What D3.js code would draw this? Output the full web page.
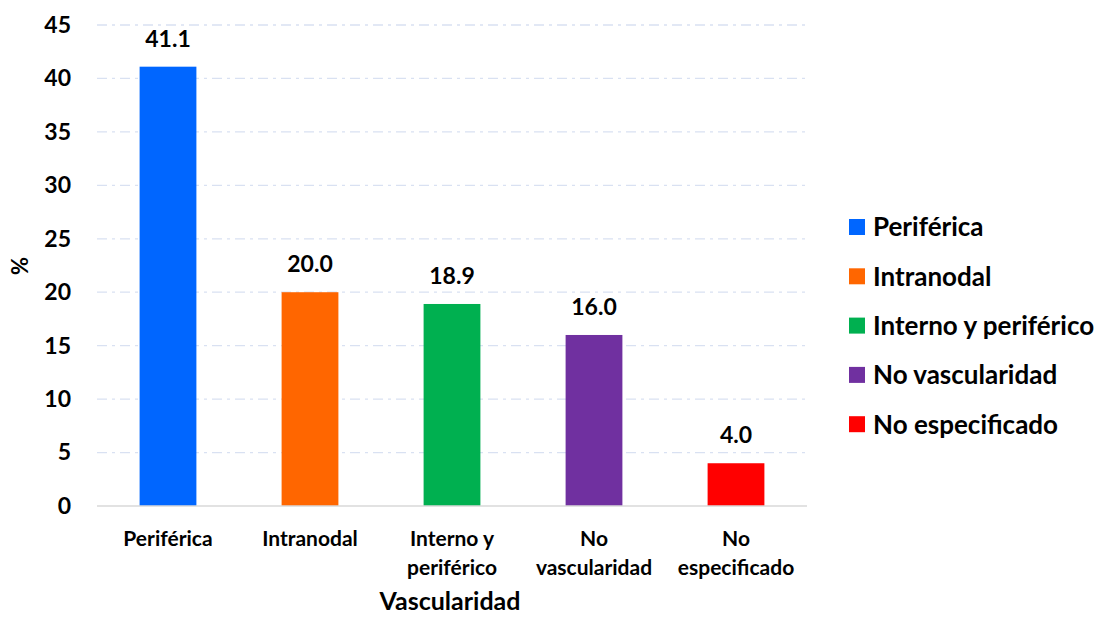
<!DOCTYPE html>
<html>
<head>
<meta charset="utf-8">
<script src="https://cdn.jsdelivr.net/npm/d3@7"></script>
<style>
  body { margin: 0; background: #fff; }
  svg { font-family: Lato, "Open Sans", sans-serif; font-weight: bold; }
</style>
</head>
<body>
<svg id="chart" width="1104" height="617"></svg>
<script>
const categories = ["Periférica", "Intranodal", "Interno y periférico", "No vascularidad", "No especificado"];
const tickLabels = [["Periférica"], ["Intranodal"], ["Interno y", "periférico"], ["No", "vascularidad"], ["No", "especificado"]];
const values = [41.1, 20.0, 18.9, 16.0, 4.0];
const colors = ["#0066ff", "#ff6600", "#00b050", "#7030a0", "#ff0000"];
const yTicks = [0, 5, 10, 15, 20, 25, 30, 35, 40, 45];

const svg = d3.select("#chart");
const plotLeft = 97, plotRight = 807, plotTop = 25, plotBottom = 506;

const x = d3.scaleBand().domain(categories).range([plotLeft, plotRight]).paddingInner(0.6).paddingOuter(0.3);
const y = d3.scaleLinear().domain([0, 45]).range([plotBottom, plotTop]);

// grid lines
svg.append("g")
  .selectAll("line")
  .data(yTicks.filter(d => d > 0))
  .join("line")
  .attr("x1", plotLeft).attr("x2", plotRight)
  .attr("y1", d => y(d)).attr("y2", d => y(d))
  .attr("stroke", "#d9e1f2")
  .attr("stroke-width", 1.3)
  .attr("stroke-dasharray", "10,5,3,5");

// y axis labels
const yAxis = svg.append("g")
  .attr("transform", `translate(${plotLeft},0)`)
  .call(d3.axisLeft(y).tickValues(yTicks).tickSize(0).tickPadding(26));
yAxis.select(".domain").remove();
yAxis.selectAll("text")
  .attr("font-family", "Lato, sans-serif")
  .attr("font-weight", "bold")
  .attr("font-size", 23)
  .attr("fill", "#000");

// bars
svg.append("g")
  .selectAll("rect")
  .data(values)
  .join("rect")
  .attr("x", (d, i) => x(categories[i]))
  .attr("y", d => y(d))
  .attr("width", x.bandwidth())
  .attr("height", d => y(0) - y(d))
  .attr("fill", (d, i) => colors[i]);

// baseline
svg.append("line")
  .attr("x1", plotLeft).attr("x2", plotRight)
  .attr("y1", y(0)).attr("y2", y(0))
  .attr("stroke", "#d9d9d9")
  .attr("stroke-width", 1.5);

// value labels
svg.append("g")
  .selectAll("text")
  .data(values)
  .join("text")
  .attr("x", (d, i) => x(categories[i]) + x.bandwidth() / 2)
  .attr("y", d => y(d) - 20)
  .attr("text-anchor", "middle")
  .attr("font-size", 23)
  .attr("fill", "#000")
  .text(d => d.toFixed(1));

// category labels
const xl = svg.append("g")
  .selectAll("text")
  .data(tickLabels)
  .join("text")
  .attr("x", (d, i) => x(categories[i]) + x.bandwidth() / 2)
  .attr("y", 546)
  .attr("text-anchor", "middle")
  .attr("font-size", 21)
  .attr("fill", "#000");
xl.selectAll("tspan")
  .data(d => d)
  .join("tspan")
  .attr("x", function() { return this.parentNode.getAttribute("x"); })
  .attr("dy", (d, i) => i === 0 ? 0 : 29)
  .text(d => d);

// axis titles
svg.append("text")
  .attr("x", 450).attr("y", 610)
  .attr("text-anchor", "middle")
  .attr("font-size", 25)
  .attr("fill", "#000")
  .text("Vascularidad");

svg.append("text")
  .attr("transform", "translate(28,266) rotate(-90)")
  .attr("text-anchor", "middle")
  .attr("font-size", 22)
  .attr("fill", "#000")
  .text("%");

// legend
const legend = svg.append("g")
  .selectAll("g")
  .data(categories)
  .join("g")
  .attr("transform", (d, i) => `translate(849,${227 + i * 49.3})`);
legend.append("rect")
  .attr("x", 0).attr("y", -8)
  .attr("width", 16).attr("height", 16)
  .attr("fill", (d, i) => colors[i]);
legend.append("text")
  .attr("x", 24).attr("y", 0)
  .attr("dy", "0.36em")
  .attr("font-size", 26)
  .attr("fill", "#000")
  .text(d => d);
</script>
</body>
</html>
